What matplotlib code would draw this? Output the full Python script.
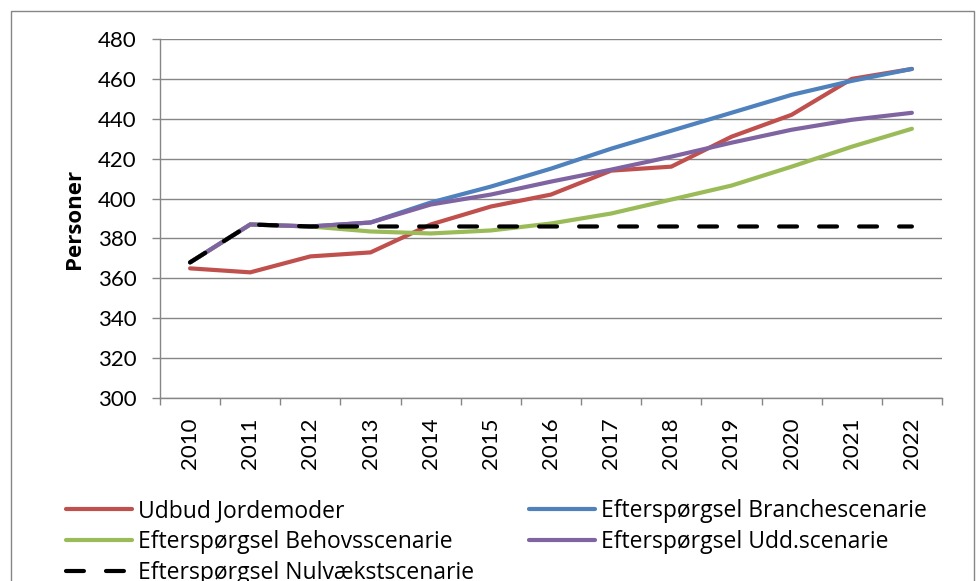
import matplotlib
matplotlib.use("Agg")
import matplotlib.pyplot as plt
from matplotlib.patches import Rectangle
import numpy as np

years = ["2010", "2011", "2012", "2013", "2014", "2015", "2016",
         "2017", "2018", "2019", "2020", "2021", "2022"]
udbud = [365, 363, 371, 373, 387, 396, 402, 414, 416, 431, 442, 460, 465]
branche = [368, 387, 386, 388, 398, 406, 415, 425, 434, 443, 452, 459, 465]
behov = [368, 387, 386, 383.5, 382.5, 384, 387.5, 392.5, 399.5, 406.5, 416, 426, 435]
udd = [368, 387, 386, 388, 397, 402, 408.5, 414.5, 421, 428, 434.5, 439.5, 443]
nul = [368, 387, 386, 386, 386, 386, 386, 386, 386, 386, 386, 386, 386]

labels = ["Udbud Jordemoder", "Efterspørgsel Branchescenarie",
          "Efterspørgsel Behovsscenarie", "Efterspørgsel Udd.scenarie",
          "Efterspørgsel Nulvækstscenarie"]
colors = ["#C0504D", "#4F81BD", "#9BBB59", "#8064A2", "#000000"]

plt.rcParams['font.family'] = ['Lato', 'DejaVu Sans']

W, H = 978, 581
fig = plt.figure(figsize=(W / 100, H / 100), dpi=100)
ax = fig.add_axes([160 / W, 1 - 398 / H, (942 - 160) / W, (398 - 39) / H])

x = np.arange(len(years))
series = [udbud, branche, behov, udd, nul]
handles = []
for i, (s, c, lab) in enumerate(zip(series, colors, labels)):
    if i == 4:
        ln, = ax.plot(x, s, color=c, lw=3, label=lab, zorder=3 + i,
                      dashes=(4.3, 5.3), dash_capstyle='round',
                      solid_capstyle='round')
    else:
        ln, = ax.plot(x, s, color=c, lw=3, label=lab, zorder=3 + i,
                      solid_capstyle='round', solid_joinstyle='miter')
    handles.append(ln)

ax.set_ylim(300, 480)
ax.set_xlim(-0.5, len(years) - 0.5)
ax.set_yticks(np.arange(300, 481, 20))
ax.yaxis.grid(True, color="#868686", lw=1.0)
ax.set_axisbelow(True)

ax.set_xticks(x)
ax.set_xticklabels(years, rotation=90, fontsize=16)
ax.set_xticks(np.arange(-0.5, len(years), 1), minor=True)
ax.tick_params(axis='x', which='major', length=0, pad=14)
ax.tick_params(axis='x', which='minor', length=5, color="#868686", width=1.0)
ax.tick_params(axis='y', length=6, color="#868686", width=1.0, labelsize=16, pad=11)

for sp in ['top', 'right']:
    ax.spines[sp].set_visible(False)
for sp in ['left', 'bottom']:
    ax.spines[sp].set_color("#868686")
    ax.spines[sp].set_linewidth(1.0)

ax.set_ylabel("Personer", fontsize=16, fontweight='bold', labelpad=9,
              family=['Open Sans', 'DejaVu Sans'])

leg_kw = dict(frameon=False, handlelength=2.9, handletextpad=0.25,
              labelspacing=0.31, borderpad=0, borderaxespad=0, loc='upper left',
              prop={'family': ['Open Sans', 'DejaVu Sans'], 'size': 16.5})
fig.legend([handles[0], handles[2], handles[4]], [labels[0], labels[2], labels[4]],
           bbox_to_anchor=(66 / W, 1 - 499 / H), **leg_kw)
fig.legend([handles[1], handles[3]], [labels[1], labels[3]],
           bbox_to_anchor=(529 / W, 1 - 499 / H), **leg_kw)

fig.add_artist(Rectangle((11 / W, -0.05), (974 - 11) / W, 1.05 - 11 / H,
                         transform=fig.transFigure, fill=False,
                         edgecolor="#868686", lw=1.0))

fig.savefig("out.png", dpi=100)
